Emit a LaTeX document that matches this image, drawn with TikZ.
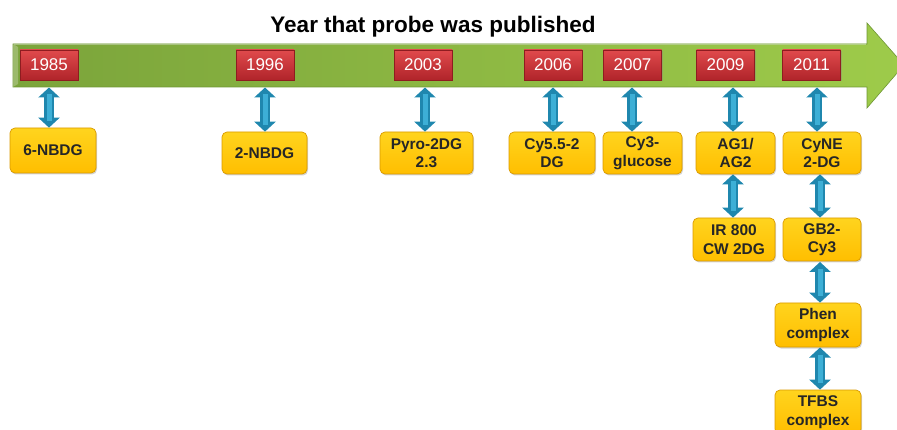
\documentclass[tikz,border=0pt]{standalone}
\usepackage{fontspec}
\setmainfont{Liberation Sans}
\usetikzlibrary{arrows.meta,shadows,calc}
\definecolor{redTop}{HTML}{E04A4C}
\definecolor{redBot}{HTML}{B0242A}
\definecolor{redEdge}{HTML}{8E1C20}
\definecolor{yelTop}{HTML}{FFD41E}
\definecolor{yelBot}{HTML}{FFBE00}
\definecolor{goldEdge}{HTML}{D99A00}
\definecolor{probeText}{HTML}{262626}
\definecolor{linkDark}{HTML}{1F87AE}
\definecolor{linkLight}{HTML}{3DAFD6}
\definecolor{barLeft}{HTML}{7BA43B}
\definecolor{barRight}{HTML}{9ECB4A}
\definecolor{barEdge}{HTML}{6E9634}
\begin{document}
\begin{tikzpicture}[x=1pt,y=-1pt,
  yearbox/.style={rectangle, draw=redEdge, line width=0.5pt, top color=redTop, bottom color=redBot,
    minimum width=58pt, minimum height=30pt, inner sep=0pt, text=white,
    font=\fontsize{17}{18}\selectfont,
    drop shadow={shadow xshift=1pt,shadow yshift=-1.5pt,opacity=0.35}},
  probe/.style={rectangle, rounded corners=5pt, draw=goldEdge, line width=0.7pt,
    top color=yelTop, bottom color=yelBot, inner sep=0pt, align=center,
    minimum height=43pt,
    font=\bfseries\fontsize{15.5}{18.5}\selectfont, text=probeText,
    drop shadow={shadow xshift=1pt,shadow yshift=-1.5pt,opacity=0.35}},
  link/.style={line width=10pt, draw=linkDark,
    {Triangle[width=21pt,length=10pt]}-{Triangle[width=21pt,length=10pt]}},
  linkhi/.style={line width=5pt, draw=linkLight, shorten <=7pt, shorten >=7pt}
]
\useasboundingbox (0,0) rectangle (897,430);
\clip (0,0) rectangle (897,430);

% title
\node[font=\bfseries\fontsize{22.5}{26}\selectfont] (title) at (433,27) {Year that probe was published};

% timeline bar
\path[draw=barEdge, line width=0.6pt, left color=barLeft, right color=barRight]
  (13,44) -- (867,44) -- (867,23) -- (904,65) -- (867,108) -- (867,87) -- (13,87) -- cycle;
\draw[white, opacity=0.35, line width=1pt] (14,45) -- (866,45);
\fill[white, opacity=0.25] (13,44) -- (18,47) -- (18,84) -- (13,87) -- cycle;

% year boxes
\node[yearbox] (r1985) at (49,65) {1985};
\node[yearbox] (r1996) at (265,65) {1996};
\node[yearbox] (r2003) at (423,65) {2003};
\node[yearbox] (r2006) at (553,65) {2006};
\node[yearbox] (r2007) at (632.5,65) {2007};
\node[yearbox] (r2009) at (725.5,65) {2009};
\node[yearbox] (r2011) at (811.5,65) {2011};

% probe boxes
\node[probe, minimum width=86pt, minimum height=45pt] (p6nbdg) at (53,150.5) {6-NBDG};
\node[probe, minimum width=85pt, minimum height=42pt] (p2nbdg) at (264.5,153) {2-NBDG};
\node[probe, minimum width=93pt, minimum height=42pt] (ppyro) at (426.5,153) {Pyro-2DG\\2.3};
\node[probe, minimum width=86pt, minimum height=42pt] (pcy55) at (552,153) {Cy5.5-2\\DG};
\node[probe, minimum width=79pt, minimum height=42pt] (pcy3) at (642.5,153) {Cy3-\\glucose};
\node[probe, minimum width=79pt, minimum height=42pt] (pag) at (735.5,153) {AG1/\\AG2};
\node[probe, minimum width=78pt, minimum height=42pt] (pcyne) at (822,153) {CyNE\\2-DG};
\node[probe, minimum width=82pt] (pir) at (734,239.5) {IR 800\\CW 2DG};
\node[probe, minimum width=78pt] (pgb) at (822,239.5) {GB2-\\Cy3};
\node[probe, minimum width=86pt, minimum height=44pt] (pphen) at (818,325) {Phen\\complex};
\node[probe, minimum width=86pt, minimum height=44pt] (ptfbs) at (818,412) {TFBS\\complex};

% connector start points (below the bar)
\coordinate (a1985) at (49,87.5);
\coordinate (a1996) at (265,87.5);
\coordinate (a2003) at (425,87.5);
\coordinate (a2006) at (553,87.5);
\coordinate (a2007) at (632,87.5);
\coordinate (a2009) at (733,87.5);
\coordinate (a2011) at (817,87.5);
\coordinate (bGB) at (820,262);
\coordinate (bPhen) at (820,347.5);

\foreach \s/\t in {a1985/p6nbdg, a1996/p2nbdg, a2003/ppyro, a2006/pcy55, a2007/pcy3, a2009/pag, a2011/pcyne}{
  \draw[link] (\s) -- (\s |- \t.north);
  \draw[linkhi] (\s) -- (\s |- \t.north);
}
\draw[link] (pag.south -| a2009) -- (a2009 |- pir.north);
\draw[linkhi] (pag.south -| a2009) -- (a2009 |- pir.north);
\draw[link] (pcyne.south -| bGB) -- (bGB |- pgb.north);
\draw[linkhi] (pcyne.south -| bGB) -- (bGB |- pgb.north);
\draw[link] (bGB) -- (bGB |- pphen.north);
\draw[linkhi] (bGB) -- (bGB |- pphen.north);
\draw[link] (bPhen) -- (bPhen |- ptfbs.north);
\draw[linkhi] (bPhen) -- (bPhen |- ptfbs.north);
\end{tikzpicture}
\end{document}
